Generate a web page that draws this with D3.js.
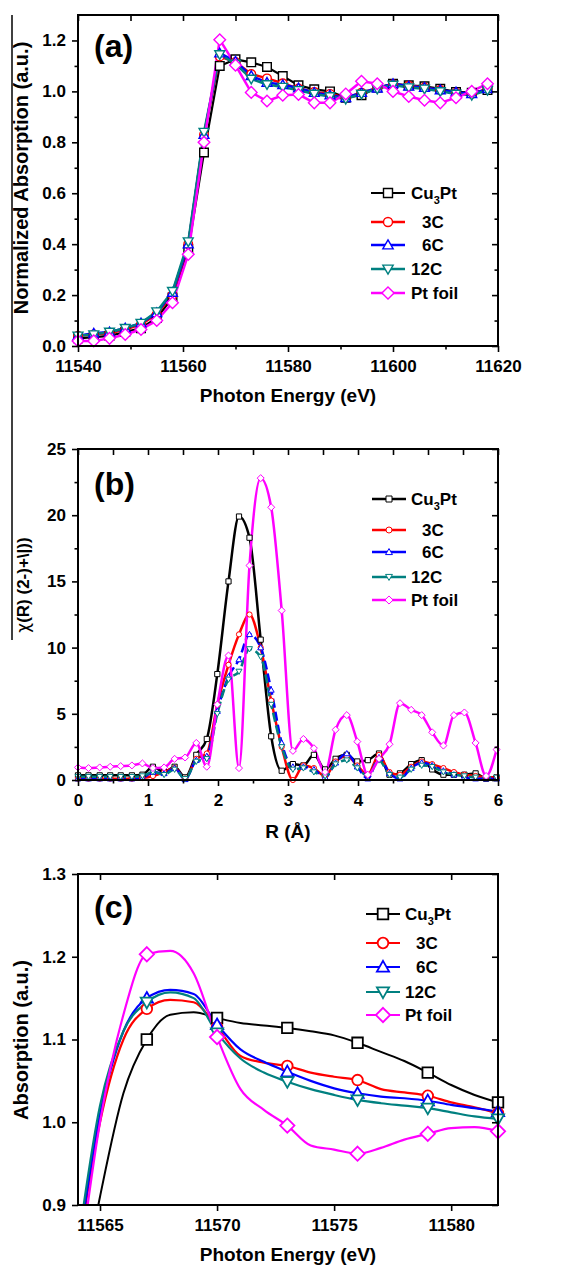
<!DOCTYPE html>
<html>
<head>
<meta charset="utf-8">
<script src="https://cdn.jsdelivr.net/npm/d3@7"></script>
<style>
  html, body { margin: 0; padding: 0; background: #fff; }
  svg text { font-family: "Liberation Sans", Arial, sans-serif; font-weight: bold; fill: #000; }
</style>
</head>
<body>
<svg id="fig" width="562" height="1266"></svg>
<script>
// ---------- series definitions ----------
const seriesNames = ["Cu3Pt", "3C", "6C", "12C", "Pt foil"];
const seriesColors = ["#000000", "#ff0000", "#0000ff", "#008080", "#ff00ff"];
const seriesShapes = ["square", "circle", "triangleUp", "triangleDown", "diamond"];

// ---------- (a) normalized XANES ----------
const energyA = [11540, 11543, 11546, 11549, 11552, 11555, 11558, 11561, 11564, 11567,
  11570, 11573, 11576, 11579, 11582, 11585, 11588, 11591, 11594, 11597,
  11600, 11603, 11606, 11609, 11612, 11615, 11618];
const xanesCu3Pt = [0.03, 0.035, 0.04, 0.055, 0.07, 0.11, 0.19, 0.38, 0.76, 1.100,
  1.126, 1.114, 1.096, 1.060, 1.024, 1.008, 1.000, 0.975, 0.985, 1.015,
  1.030, 1.024, 1.020, 1.010, 0.998, 0.995, 1.005];
const xanes3C = [0.04, 0.045, 0.05, 0.065, 0.085, 0.125, 0.20, 0.40, 0.83, 1.137,
  1.115, 1.068, 1.051, 1.032, 1.011, 0.998, 0.990, 0.975, 0.995, 1.012,
  1.028, 1.022, 1.015, 1.005, 0.995, 0.990, 1.010];
const xanes6C = [0.04, 0.05, 0.055, 0.07, 0.09, 0.13, 0.21, 0.40, 0.83, 1.150,
  1.118, 1.061, 1.035, 1.026, 1.013, 0.995, 0.985, 0.975, 0.995, 1.012,
  1.030, 1.020, 1.015, 1.005, 0.997, 0.990, 1.010];
const xanes12C = [0.04, 0.045, 0.055, 0.07, 0.09, 0.135, 0.215, 0.41, 0.84, 1.145,
  1.108, 1.049, 1.027, 1.017, 1.004, 0.990, 0.980, 0.970, 0.990, 1.010,
  1.025, 1.015, 1.010, 1.000, 0.990, 0.985, 1.005];
const xanesPtFoil = [0.02, 0.02, 0.03, 0.045, 0.065, 0.10, 0.17, 0.36, 0.80, 1.203,
  1.103, 0.996, 0.962, 0.985, 0.988, 0.955, 0.955, 0.990, 1.040, 1.030,
  1.000, 0.980, 0.965, 0.955, 0.975, 1.000, 1.030];
const ticksAx = [11540, 11560, 11580, 11600, 11620];
const ticksAy = [0.0, 0.2, 0.4, 0.6, 0.8, 1.0, 1.2];

// ---------- (b) Fourier transform magnitude ----------
const radius = [0.00, 0.15, 0.31, 0.46, 0.61, 0.77, 0.92, 1.07, 1.23, 1.38,
  1.53, 1.69, 1.84, 1.99, 2.15, 2.30, 2.45, 2.61, 2.76, 2.91,
  3.07, 3.22, 3.37, 3.53, 3.68, 3.84, 3.99, 4.14, 4.30, 4.45,
  4.60, 4.76, 4.91, 5.06, 5.22, 5.37, 5.52, 5.68, 5.83, 5.98];
const ftCu3Pt = [0.35, 0.35, 0.35, 0.35, 0.35, 0.35, 0.4, 1.0, 0.6, 1.0,
  0.2, 1.9, 3.1, 8.0, 15.0, 19.9, 18.3, 10.6, 3.3, 0.7,
  1.2, 1.1, 1.9, 0.8, 1.6, 1.9, 1.4, 1.5, 2.0, 0.4,
  0.5, 1.2, 1.5, 0.8, 0.4, 0.4, 0.4, 0.5, 0.1, 0.2];
const ft3C = [0.1, 0.1, 0.1, 0.1, 0.1, 0.1, 0.15, 0.3, 0.6, 0.9,
  0.1, 1.6, 2.0, 5.7, 8.7, 11.0, 12.5, 10.0, 6.0, 2.5,
  0.0, 1.1, 0.9, 0.3, 1.4, 1.8, 1.1, 0.4, 1.9, 0.6,
  0.4, 1.0, 1.4, 1.2, 0.9, 0.6, 0.4, 0.3, 0.2, 0.2];
const ft6C = [0.1, 0.1, 0.1, 0.1, 0.1, 0.1, 0.15, 0.6, 0.5, 0.9,
  0.05, 1.5, 1.8, 5.2, 7.8, 9.1, 11.0, 10.0, 6.8, 2.8,
  1.0, 1.0, 0.8, 0.2, 1.3, 2.0, 1.0, 0.1, 1.7, 0.5,
  0.1, 0.9, 1.3, 1.1, 0.7, 0.4, 0.2, 0.1, 0.1, 0.1];
const ft12C = [0.25, 0.25, 0.25, 0.25, 0.25, 0.25, 0.3, 0.6, 0.4, 0.8,
  0.1, 1.4, 1.6, 5.0, 7.6, 8.2, 9.9, 9.3, 5.7, 2.5,
  0.8, 0.9, 0.6, 0.3, 1.2, 1.5, 0.9, 0.3, 1.5, 0.4,
  0.2, 0.8, 1.1, 1.0, 0.6, 0.4, 0.3, 0.2, 0.2, 0.2];
const ftPtFoil = [0.95, 0.9, 0.95, 1.0, 1.05, 1.1, 1.25, 0.9, 0.95, 1.6,
  1.7, 2.8, 1.0, 5.7, 9.4, 0.9, 16.2, 22.8, 20.6, 12.8,
  2.2, 3.1, 2.4, 0.6, 3.8, 4.9, 2.9, 0.4, 1.6, 2.7,
  5.8, 5.3, 4.9, 3.6, 2.6, 4.9, 5.1, 2.8, 0.3, 2.3];
const ticksBx = [0, 1, 2, 3, 4, 5, 6];
const ticksBy = [0, 5, 10, 15, 20, 25];

// ---------- (c) white-line region ----------
const energyC = [11564, 11565, 11566, 11567, 11568, 11569, 11570, 11571, 11572, 11573,
  11574, 11575, 11576, 11577, 11578, 11579, 11580, 11581, 11582];
const edgeCu3Pt = [0.76, 0.91, 1.035, 1.100, 1.130, 1.133, 1.126, 1.120, 1.117, 1.114,
  1.110, 1.105, 1.096, 1.085, 1.074, 1.060, 1.045, 1.033, 1.024];
const edge3C = [0.83, 1.00, 1.100, 1.137, 1.148, 1.145, 1.115, 1.080, 1.072, 1.068,
  1.060, 1.055, 1.051, 1.040, 1.036, 1.032, 1.024, 1.018, 1.011];
const edge6C = [0.83, 1.01, 1.110, 1.150, 1.160, 1.155, 1.118, 1.088, 1.073, 1.061,
  1.050, 1.041, 1.035, 1.031, 1.029, 1.026, 1.021, 1.017, 1.013];
const edge12C = [0.84, 1.02, 1.110, 1.145, 1.157, 1.150, 1.108, 1.077, 1.060, 1.049,
  1.040, 1.033, 1.027, 1.023, 1.020, 1.017, 1.012, 1.007, 1.004];
const edgePtFoil = [0.80, 1.00, 1.130, 1.203, 1.207, 1.180, 1.103, 1.040, 1.015, 0.996,
  0.972, 0.967, 0.962, 0.969, 0.979, 0.986, 0.993, 0.994, 0.989];
const markerEnergiesC = [11567, 11570, 11573, 11576, 11579, 11582];
const ticksCx = [11565, 11570, 11575, 11580];
const ticksCy = [0.9, 1.0, 1.1, 1.2, 1.3];

// ---------- helpers ----------
const svg = d3.select("#fig");
svg.append("rect").attr("width", 562).attr("height", 1266).attr("fill", "#fff");

function markerPath(shape, r) {
  switch (shape) {
    case "square": return `M${-r},${-r}H${r}V${r}H${-r}Z`;
    case "circle": return `M${r},0A${r},${r} 0 1,1 ${-r},0A${r},${r} 0 1,1 ${r},0Z`;
    case "triangleUp": { const h = r * 1.15; return `M0,${-h}L${h},${h * 0.75}L${-h},${h * 0.75}Z`; }
    case "triangleDown": { const h = r * 1.15; return `M0,${h}L${h},${-h * 0.75}L${-h},${-h * 0.75}Z`; }
    case "diamond": { const h = r * 1.35; return `M0,${-h}L${h},0L0,${h}L${-h},0Z`; }
  }
}

let clipId = 0;
function panel(cfg) {
  const g = svg.append("g");
  const x = d3.scaleLinear().domain(cfg.xDomain).range([cfg.left, cfg.right]);
  const y = d3.scaleLinear().domain(cfg.yDomain).range([cfg.bottom, cfg.top]);
  const id = "clip" + (clipId++);
  svg.append("clipPath").attr("id", id).append("rect")
    .attr("x", cfg.left).attr("y", cfg.top)
    .attr("width", cfg.right - cfg.left).attr("height", cfg.bottom - cfg.top);

  // data
  const plot = g.append("g").attr("clip-path", `url(#${id})`);
  cfg.series.forEach((s, i) => {
    const pts = s.x.map((xv, j) => [xv, s.y[j]]);
    const line = d3.line().x(d => x(d[0])).y(d => y(d[1])).curve(cfg.curve);
    plot.append("path").datum(pts)
      .attr("d", line).attr("fill", "none")
      .attr("stroke", seriesColors[i]).attr("stroke-width", cfg.lineWidth[i])
      .attr("stroke-dasharray", cfg.dash ? cfg.dash[i] : null)
      .attr("stroke-linejoin", "round");
  });
  const markG = g.append("g");
  cfg.series.forEach((s, i) => {
    const pts = s.x.map((xv, j) => [xv, s.y[j]]).filter(d => !s.markAt || s.markAt.includes(d[0]));
    markG.selectAll(null).data(pts.filter(d => y(d[1]) <= cfg.bottom + 1 && y(d[1]) >= cfg.top - 1)).join("path")
      .attr("transform", d => `translate(${x(d[0])},${y(d[1])})`)
      .attr("d", markerPath(seriesShapes[i], cfg.markR))
      .attr("fill", "#fff").attr("stroke", seriesColors[i]).attr("stroke-width", cfg.markStroke);
  });

  // axes
  const axG = g.append("g");
  const bottom = axG.append("g").attr("transform", `translate(0,${cfg.bottom})`)
    .call(d3.axisBottom(x).tickValues(cfg.xTicks).tickSize(6).tickSizeOuter(0).tickPadding(8)
      .tickFormat(cfg.xFormat));
  const left = axG.append("g").attr("transform", `translate(${cfg.left},0)`)
    .call(d3.axisLeft(y).tickValues(cfg.yTicks).tickSize(6).tickSizeOuter(0).tickPadding(6)
      .tickFormat(cfg.yFormat));
  axG.append("g").attr("transform", `translate(0,${cfg.top})`)
    .call(d3.axisTop(x).tickValues(cfg.xTicks.concat(cfg.xMinor)).tickSize(-6).tickSizeOuter(0).tickFormat(""));
  axG.append("g").attr("transform", `translate(${cfg.right},0)`)
    .call(d3.axisRight(y).tickValues(cfg.yTicks).tickSize(-6).tickSizeOuter(0).tickFormat(""));
  if (cfg.xMinor.length) {
    axG.append("g").attr("transform", `translate(0,${cfg.bottom})`)
      .call(d3.axisBottom(x).tickValues(cfg.xMinor).tickSize(3.5).tickSizeOuter(0).tickFormat(""));
  }
  if (cfg.yMinor.length) {
    axG.append("g").attr("transform", `translate(${cfg.left},0)`)
      .call(d3.axisLeft(y).tickValues(cfg.yMinor).tickSize(3.5).tickSizeOuter(0).tickFormat(""));
    axG.append("g").attr("transform", `translate(${cfg.right},0)`)
      .call(d3.axisRight(y).tickValues(cfg.yMinor).tickSize(-3.5).tickSizeOuter(0).tickFormat(""));
  }
  axG.selectAll(".domain").remove();
  axG.selectAll("line").attr("stroke", "#000").attr("stroke-width", 1.6);
  axG.selectAll("text").attr("font-size", 17).attr("fill", "#000")
    .attr("font-family", "Liberation Sans, Arial, sans-serif").attr("font-weight", "bold");
  g.append("rect").attr("x", cfg.left).attr("y", cfg.top)
    .attr("width", cfg.right - cfg.left).attr("height", cfg.bottom - cfg.top)
    .attr("fill", "none").attr("stroke", "#000").attr("stroke-width", 2);

  // panel letter
  g.append("text").attr("x", cfg.left + 16).attr("y", cfg.top + cfg.letterDy)
    .attr("font-family", "Liberation Serif, Times New Roman, serif").attr("font-weight", "bold")
    .attr("font-size", 32).text(cfg.letter);

  // axis titles
  g.append("text").attr("x", (cfg.left + cfg.right) / 2).attr("y", cfg.xTitleY)
    .attr("text-anchor", "middle").attr("font-size", 19).text(cfg.xTitle);
  if (cfg.yTitle) {
    g.append("text").attr("transform", `translate(${cfg.yTitleX},${cfg.yTitleY}) rotate(-90)`)
      .attr("text-anchor", "middle").attr("font-size", 20).text(cfg.yTitle);
  }

  // legend
  const lg = g.append("g");
  seriesNames.forEach((name, i) => {
    const yy = cfg.legend.ys[i];
    lg.append("line").attr("x1", cfg.legend.x0).attr("x2", cfg.legend.x1)
      .attr("y1", yy).attr("y2", yy).attr("stroke", seriesColors[i]).attr("stroke-width", cfg.lineWidth[i]);
    lg.append("path").attr("transform", `translate(${(cfg.legend.x0 + cfg.legend.x1) / 2},${yy})`)
      .attr("d", markerPath(seriesShapes[i], cfg.legend.markR))
      .attr("fill", "#fff").attr("stroke", seriesColors[i]).attr("stroke-width", cfg.markStroke);
    const indent = (name === "3C" || name === "6C") ? cfg.legend.indent : 0;
    const t = lg.append("text").attr("x", cfg.legend.tx + indent).attr("y", yy + 6).attr("font-size", 17);
    if (name === "Cu3Pt") {
      t.append("tspan").text("Cu");
      t.append("tspan").attr("font-size", 11).attr("dy", 5).text("3");
      t.append("tspan").attr("dy", -5).text("Pt");
    } else {
      t.text(name);
    }
  });
  return { x, y, g };
}

const fmt1 = d3.format(".1f");

// (a)
panel({
  left: 78, right: 498, top: 15, bottom: 346,
  xDomain: [11540, 11620], yDomain: [0, 1.3],
  xTicks: ticksAx, xMinor: [11550, 11570, 11590, 11610],
  yTicks: ticksAy, yMinor: [0.1, 0.3, 0.5, 0.7, 0.9, 1.1],
  xFormat: d3.format("d"), yFormat: fmt1,
  series: [xanesCu3Pt, xanes3C, xanes6C, xanes12C, xanesPtFoil].map(v => ({ x: energyA, y: v })),
  curve: d3.curveLinear, lineWidth: [2.2, 2.5, 2.5, 2.5, 2.5],
  markR: 4.3, markStroke: 1.4,
  letter: "(a)", letterDy: 42,
  xTitle: "Photon Energy (eV)", xTitleY: 402,
  yTitle: "Normalized Absorption (a.u.)", yTitleX: 28, yTitleY: 178,
  legend: { x0: 371, x1: 405, tx: 411, indent: 11, ys: [193, 222, 245, 269, 293], markR: 4.5 }
});

// (b)
panel({
  left: 78, right: 498, top: 449, bottom: 780,
  xDomain: [0, 6], yDomain: [0, 25],
  xTicks: ticksBx, xMinor: [0.5, 1.5, 2.5, 3.5, 4.5, 5.5],
  yTicks: ticksBy, yMinor: [2.5, 7.5, 12.5, 17.5, 22.5],
  xFormat: d3.format("d"), yFormat: d3.format("d"),
  series: [ftCu3Pt, ft3C, ft6C, ft12C, ftPtFoil].map(v => ({ x: radius, y: v })),
  curve: d3.curveMonotoneX, lineWidth: [2.5, 2.5, 2.5, 2.5, 2.5],
  dash: [null, null, "9,4", "9,4", null],
  markR: 2.6, markStroke: 1,
  letter: "(b)", letterDy: 46,
  xTitle: "R (Å)", xTitleY: 838,
  yTitle: null,
  legend: { x0: 372, x1: 406, tx: 411, indent: 11, ys: [499, 530, 552, 577, 600], markR: 3 }
});

// (c)
panel({
  left: 78, right: 498, top: 874, bottom: 1205,
  xDomain: [11564.06, 11582], yDomain: [0.9, 1.3],
  xTicks: ticksCx, xMinor: [],
  yTicks: ticksCy, yMinor: [],
  xFormat: d3.format("d"), yFormat: fmt1,
  series: [edgeCu3Pt, edge3C, edge6C, edge12C, edgePtFoil].map(v => ({ x: energyC, y: v, markAt: markerEnergiesC })),
  curve: d3.curveMonotoneX, lineWidth: [2, 2.2, 2.2, 2.2, 2.2],
  markR: 5.3, markStroke: 1.8,
  letter: "(c)", letterDy: 44,
  xTitle: "Photon Energy (eV)", xTitleY: 1261,
  yTitle: "Absorption (a.u.)", yTitleX: 28, yTitleY: 1040,
  legend: { x0: 366, x1: 400, tx: 405, indent: 11, ys: [914, 943, 967, 992, 1015], markR: 5.3 }
});

// (b) ordinate caption and the rule beside the left margin
svg.append("line").attr("x1", 12).attr("x2", 12).attr("y1", 15).attr("y2", 640)
  .attr("stroke", "#000").attr("stroke-width", 1.5);
const yb = svg.append("text").attr("transform", "translate(29,585) rotate(-90)")
  .attr("text-anchor", "middle").attr("font-size", 17).attr("font-weight", "normal");
yb.append("tspan").attr("font-family", "DejaVu Sans, sans-serif").attr("font-weight", "normal").text("χ");
yb.append("tspan").attr("font-weight", "bold").text("(R) (2-)+\\|))");
</script>
</body>
</html>
